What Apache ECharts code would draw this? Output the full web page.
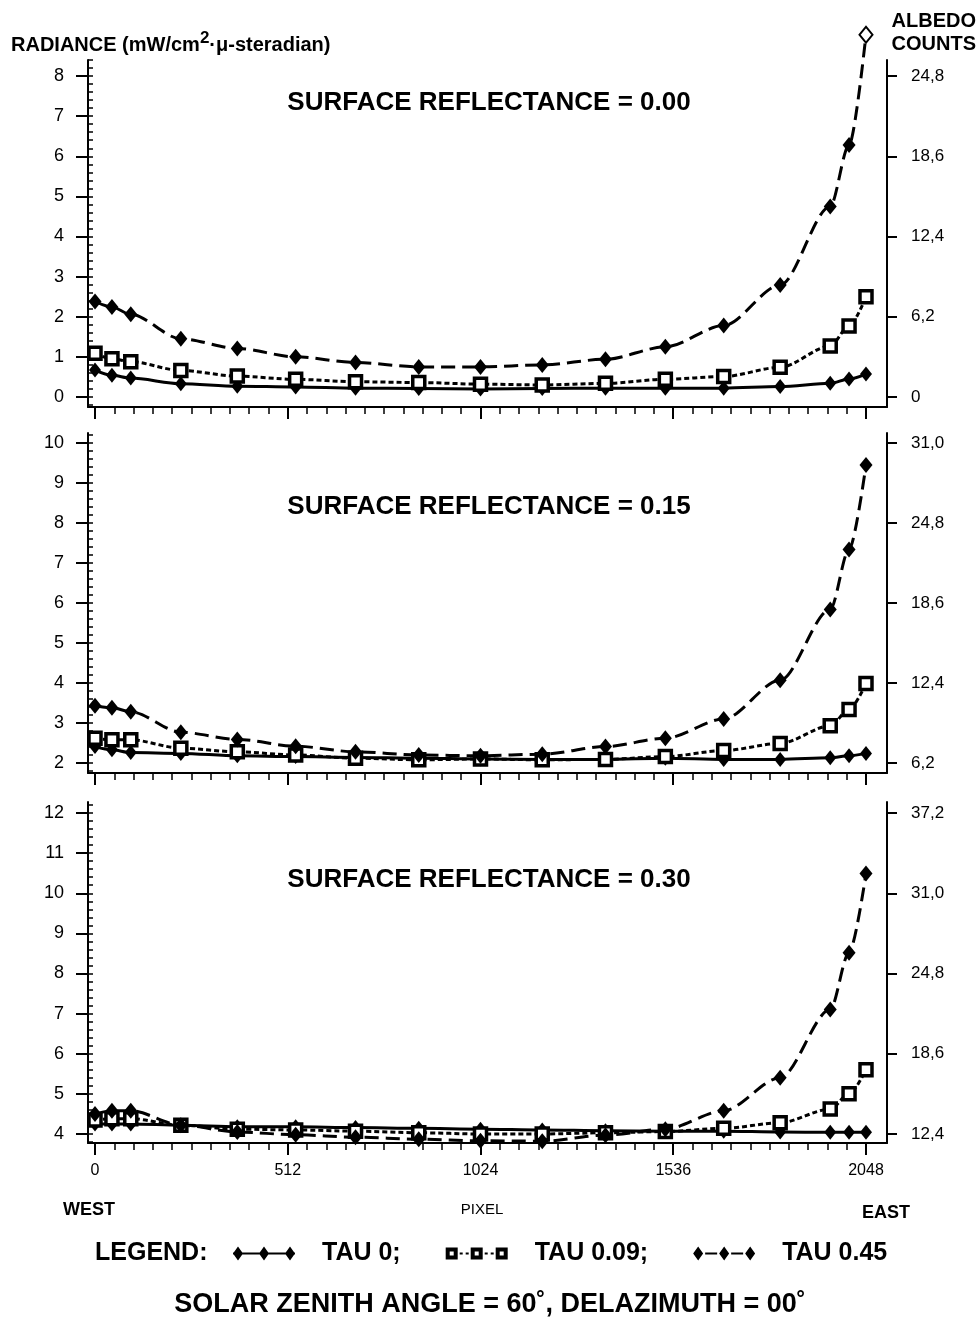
<!DOCTYPE html>
<html><head><meta charset="utf-8">
<script src="https://cdn.jsdelivr.net/npm/echarts@6/dist/echarts.min.js"></script>
<style>html,body{margin:0;padding:0;background:#fff}#c{width:979px;height:1320px}</style>
</head><body><div id="c"></div><script>
// ---- data ----
const pixels = [0, 45, 95, 228, 378, 533, 692, 860, 1024, 1188, 1356, 1515, 1670, 1820, 1953, 2003, 2048];
const seriesNames = ['TAU 0;', 'TAU 0.09;', 'TAU 0.45'];
const reflectanceLabels = ['0.00', '0.15', '0.30'];

const tau0_r00   = [0.67, 0.54, 0.47, 0.33, 0.27, 0.25, 0.22, 0.21, 0.20, 0.21, 0.22, 0.22, 0.22, 0.26, 0.34, 0.45, 0.57];
const tau009_r00 = [1.09, 0.95, 0.88, 0.66, 0.52, 0.44, 0.38, 0.36, 0.32, 0.30, 0.34, 0.44, 0.51, 0.74, 1.27, 1.77, 2.50];
const tau045_r00 = [2.38, 2.24, 2.06, 1.45, 1.21, 1.00, 0.86, 0.75, 0.75, 0.80, 0.94, 1.25, 1.78, 2.79, 4.75, 6.28, 9.03];

const tau0_r15   = [2.41, 2.33, 2.26, 2.24, 2.18, 2.16, 2.14, 2.12, 2.10, 2.09, 2.09, 2.12, 2.09, 2.09, 2.13, 2.18, 2.24];
const tau009_r15 = [2.62, 2.58, 2.58, 2.37, 2.28, 2.20, 2.12, 2.08, 2.10, 2.08, 2.09, 2.16, 2.31, 2.49, 2.93, 3.34, 3.99];
const tau045_r15 = [3.43, 3.38, 3.28, 2.77, 2.59, 2.42, 2.28, 2.20, 2.18, 2.22, 2.41, 2.62, 3.10, 4.07, 5.84, 7.34, 9.45];

const tau0_r30   = [4.25, 4.25, 4.25, 4.22, 4.18, 4.18, 4.16, 4.14, 4.12, 4.10, 4.08, 4.07, 4.07, 4.05, 4.04, 4.04, 4.04];
const tau009_r30 = [4.35, 4.38, 4.38, 4.22, 4.12, 4.10, 4.07, 4.03, 4.00, 4.00, 4.03, 4.06, 4.14, 4.28, 4.62, 5.00, 5.60];
const tau045_r30 = [4.50, 4.58, 4.58, 4.22, 4.05, 3.98, 3.92, 3.87, 3.83, 3.82, 3.97, 4.12, 4.58, 5.40, 7.10, 8.52, 10.49];

const xTicks = [0, 512, 1024, 1536, 2048];
const leftTicks_r00 = [0, 1, 2, 3, 4, 5, 6, 7, 8];
const leftTicks_r15 = [2, 3, 4, 5, 6, 7, 8, 9, 10];
const leftTicks_r30 = [4, 5, 6, 7, 8, 9, 10, 11, 12];
const rightTicks_r00 = [0, 6.2, 12.4, 18.6, 24.8];
const rightTicks_r15 = [6.2, 12.4, 18.6, 24.8, 31.0];
const rightTicks_r30 = [12.4, 18.6, 24.8, 31.0, 37.2];
const ALBEDO_PER_RADIANCE = 3.1;

// ---- layout ----
const FONT = '"Liberation Sans", Arial, Helvetica, sans-serif';
const X_MIN = -18.6, X_MAX = 2103.8;
const panels = [
  {refl: reflectanceLabels[0], data: [tau0_r00, tau009_r00, tau045_r00], lt: leftTicks_r00, rt: rightTicks_r00, yMin: -0.25, yMax: 8.4, top: 60, height: 347, titleY: 103},
  {refl: reflectanceLabels[1], data: [tau0_r15, tau009_r15, tau045_r15], lt: leftTicks_r15, rt: rightTicks_r15, yMin: 1.75, yMax: 10.25, top: 433, height: 340, titleY: 507},
  {refl: reflectanceLabels[2], data: [tau0_r30, tau009_r30, tau045_r30], lt: leftTicks_r30, rt: rightTicks_r30, yMin: 3.775, yMax: 12.275, top: 802, height: 341, titleY: 880}
];

const minorX = [];
for (let k = 0; k <= 40; k++) minorX.push(+(k * 51.2).toFixed(1));

const styles = [
  {symbol: 'diamond', symbolSize: [12, 15], lineStyle: {color: '#000', width: 3, type: 'solid'}, itemStyle: {color: '#000'}},
  {symbol: 'rect', symbolSize: 12, lineStyle: {color: '#000', width: 3, type: [5, 3]}, itemStyle: {color: '#fff', borderColor: '#000', borderWidth: 3.5}},
  {symbol: 'diamond', symbolSize: [13, 16], lineStyle: {color: '#000', width: 3, type: [14, 7]}, itemStyle: {color: '#000'}}
];

const grid = [], xAxis = [], yAxis = [], series = [], graphic = [];
const fmtRight = v => (Math.abs(v) < 1e-9 ? '0' : v.toFixed(1).replace('.', ','));

panels.forEach((p, i) => {
  const isLast = i === panels.length - 1;
  grid.push({left: 88, right: 92, top: p.top, height: p.height});
  xAxis.push({
    type: 'value', gridIndex: i, position: 'bottom', min: X_MIN, max: X_MAX,
    axisLine: {show: true, onZero: false, lineStyle: {color: '#000', width: 2}},
    axisTick: {show: true, length: 12, customValues: xTicks, lineStyle: {color: '#000', width: 2}},
    axisLabel: {show: isLast, customValues: xTicks, formatter: v => String(Math.round(v)), margin: 20, fontSize: 16, color: '#000', fontFamily: FONT},
    splitLine: {show: false}
  });
  xAxis.push({
    type: 'value', gridIndex: i, position: 'bottom', min: X_MIN, max: X_MAX,
    axisLine: {show: false, onZero: false},
    axisTick: {show: true, length: 7, customValues: minorX, lineStyle: {color: '#000', width: 1.5}},
    axisLabel: {show: false}, splitLine: {show: false}
  });
  const minorY = [];
  for (let v = Math.ceil(p.yMin * 5) / 5; v <= p.yMax + 1e-9; v += 0.2) minorY.push(+v.toFixed(2));
  yAxis.push({
    type: 'value', gridIndex: i, position: 'left', min: p.yMin, max: p.yMax,
    axisLine: {show: true, onZero: false, lineStyle: {color: '#000', width: 2}},
    axisTick: {show: true, length: 12, customValues: p.lt, lineStyle: {color: '#000', width: 2}},
    axisLabel: {customValues: p.lt, margin: 24, fontSize: 18, color: '#000', fontFamily: FONT},
    splitLine: {show: false}
  });
  yAxis.push({
    type: 'value', gridIndex: i, position: 'left', min: p.yMin, max: p.yMax,
    axisLine: {show: false, onZero: false},
    axisTick: {show: true, inside: true, length: 5, customValues: minorY, lineStyle: {color: '#000', width: 1.5}},
    axisLabel: {show: false}, splitLine: {show: false}
  });
  yAxis.push({
    type: 'value', gridIndex: i, position: 'right',
    min: p.yMin * ALBEDO_PER_RADIANCE, max: p.yMax * ALBEDO_PER_RADIANCE,
    axisLine: {show: true, onZero: false, lineStyle: {color: '#000', width: 2}},
    axisTick: {show: true, length: 10, customValues: p.rt, lineStyle: {color: '#000', width: 2}},
    axisLabel: {customValues: p.rt, formatter: fmtRight, margin: 24, fontSize: 17, color: '#000', fontFamily: FONT},
    splitLine: {show: false}
  });
  seriesNames.forEach((name, t) => {
    const st = styles[t];
    series.push({
      type: 'line', name, xAxisIndex: 2 * i, yAxisIndex: 3 * i,
      clip: false, smooth: 0.3, smoothMonotone: 'x', animation: false,
      symbol: st.symbol, symbolSize: st.symbolSize,
      lineStyle: st.lineStyle, itemStyle: st.itemStyle, z: 3 + t,
      data: pixels.map((x, k) => {
        const v = p.data[t][k];
        return v > p.yMax
          ? {value: [x, v], itemStyle: {color: '#fff', borderColor: '#000', borderWidth: 2}}
          : [x, v];
      })
    });
  });
  graphic.push({type: 'text', x: 489, y: p.titleY, style: {
    text: 'SURFACE REFLECTANCE = ' + p.refl, fill: '#000', fontFamily: FONT,
    fontSize: 26, fontWeight: 'bold', align: 'center', verticalAlign: 'middle'}});
});

graphic.push(
  {type: 'text', x: 11, y: 45, style: {
    text: '{a|RADIANCE (mW/cm}{b|2}{a|·μ-steradian)}', verticalAlign: 'middle',
    rich: {a: {fontSize: 20, fontWeight: 'bold', fontFamily: FONT, fill: '#000'},
           b: {fontSize: 17, fontWeight: 'bold', fontFamily: FONT, fill: '#000', padding: [0, 0, 13, 0]}}}},
  {type: 'text', x: 976, y: 21, style: {text: 'ALBEDO', fill: '#000', fontFamily: FONT, fontSize: 20, fontWeight: 'bold', align: 'right', verticalAlign: 'middle'}},
  {type: 'text', x: 976, y: 44, style: {text: 'COUNTS', fill: '#000', fontFamily: FONT, fontSize: 20, fontWeight: 'bold', align: 'right', verticalAlign: 'middle'}},
  {type: 'text', x: 89, y: 1210, style: {text: 'WEST', fill: '#000', fontFamily: FONT, fontSize: 18, fontWeight: 'bold', align: 'center', verticalAlign: 'middle'}},
  {type: 'text', x: 482, y: 1210, style: {text: 'PIXEL', fill: '#000', fontFamily: FONT, fontSize: 15, align: 'center', verticalAlign: 'middle'}},
  {type: 'text', x: 886, y: 1213, style: {text: 'EAST', fill: '#000', fontFamily: FONT, fontSize: 18, fontWeight: 'bold', align: 'center', verticalAlign: 'middle'}},
  {type: 'text', x: 95, y: 1253, style: {text: 'LEGEND:', fill: '#000', fontFamily: FONT, fontSize: 25, fontWeight: 'bold', align: 'left', verticalAlign: 'middle'}},
  {type: 'text', x: 490, y: 1305, style: {text: 'SOLAR ZENITH ANGLE = 60˚, DELAZIMUTH = 00˚', fill: '#000', fontFamily: FONT, fontSize: 27, fontWeight: 'bold', align: 'center', verticalAlign: 'middle'}}
);

const ICON_SOLID = 'path://M0 6H62V8H0Z M0 7L5 0L10 7L5 14Z M26 7L31 0L36 7L31 14Z M52 7L57 0L62 7L57 14Z';
const ICON_SQUARE = 'path://M0 1H12V13H0Z M4 5V9H8V5Z M14 6H17V8H14Z M20 6H23V8H20Z M25 1H37V13H25Z M29 5V9H33V5Z M39 6H42V8H39Z M45 6H48V8H45Z M50 1H62V13H50Z M54 5V9H58V5Z';
const ICON_DASH = 'path://M0 7L5 0L10 7L5 14Z M12 6H24V8H12Z M26 7L31 0L36 7L31 14Z M38 6H50V8H38Z M52 7L57 0L62 7L57 14Z';
const legendIcons = [ICON_SOLID, ICON_SQUARE, ICON_DASH];

const option = {
  backgroundColor: '#fff',
  animation: false,
  grid, xAxis, yAxis, series, graphic,
  legend: {
    left: 228, top: 1236, orient: 'horizontal', itemWidth: 62, itemHeight: 14, itemGap: 45,
    symbolKeepAspect: true, selectedMode: false,
    textStyle: {fontFamily: FONT, fontSize: 25, fontWeight: 'bold', color: '#000', padding: [0, 0, 0, 22]},
    data: seriesNames.map((n, t) => ({name: n, icon: legendIcons[t], itemStyle: {color: '#000', borderWidth: 0}}))
  }
};
const chart = echarts.init(document.getElementById('c'));
chart.setOption(option);
</script></body></html>
